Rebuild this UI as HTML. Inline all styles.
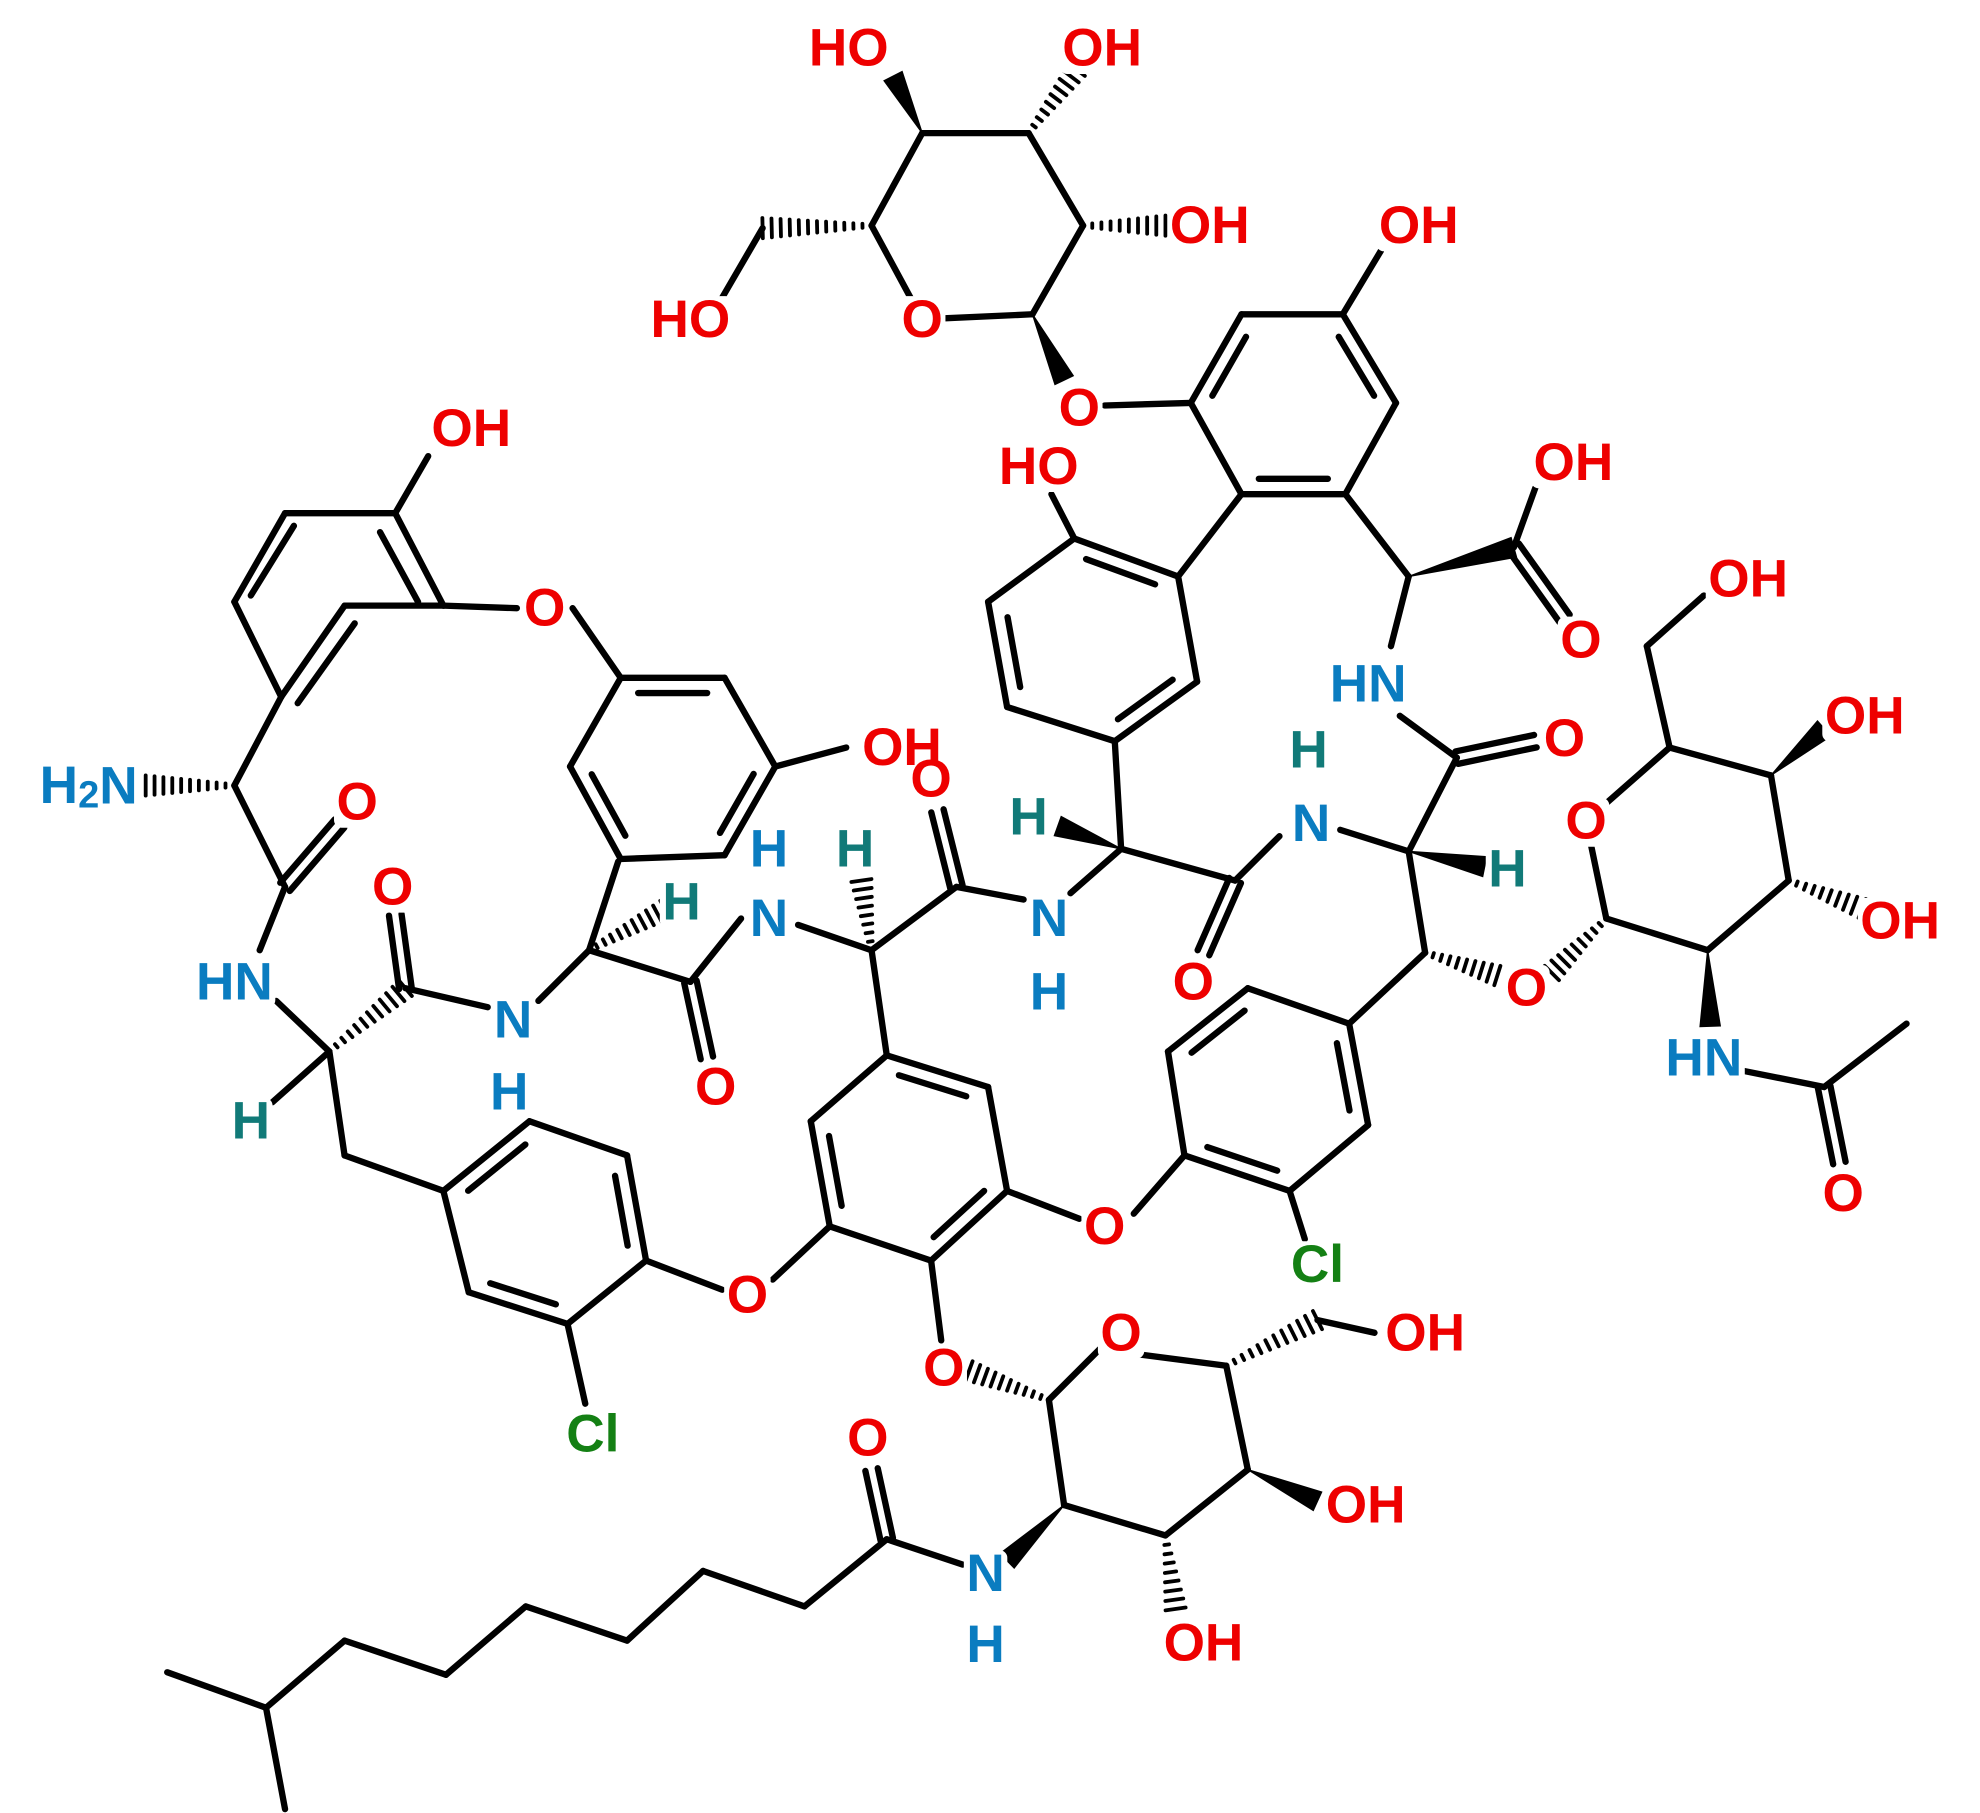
<!DOCTYPE html>
<html><head><meta charset="utf-8"><style>
html,body{margin:0;padding:0;background:#fff}
svg{display:block}
text{font-family:"Liberation Sans",sans-serif;font-weight:bold;font-size:42px;text-anchor:middle;dominant-baseline:central}
.o{fill:#ee0000}.n{fill:#0a7cc0}.h{fill:#117a78}.c{fill:#148014}
</style></head><body>
<svg id="s" width="1980" height="1813" viewBox="0 0 1563 1431" xmlns="http://www.w3.org/2000/svg">
<g id="b" stroke="#000" stroke-width="5" stroke-linecap="round" fill="#000"></g>
<g id="bg" fill="#fff"></g>
<g id="t">
<text class="o" x="670" y="38">HO</text>
<text class="o" x="870" y="38">OH</text>
<text class="o" x="955" y="178">OH</text>
<text class="o" x="545" y="252">HO</text>
<text class="o" x="728" y="252">O</text>
<text class="o" x="852" y="322">O</text>
<text class="o" x="1120" y="178">OH</text>
<text class="o" x="372" y="338">OH</text>
<text class="o" x="820" y="368">HO</text>
<text class="o" x="1242" y="365">OH</text>
<text class="o" x="1248" y="505">O</text>
<text class="o" x="1380" y="457">OH</text>
<text class="n" x="1080" y="540">HN</text>
<text class="o" x="1235" y="583">O</text>
<text class="o" x="430" y="480">O</text>
<text class="o" x="712" y="590">OH</text>
<text class="o" x="735" y="615">O</text>
<text class="h" x="1033" y="592">H</text>
<text class="n" x="1035" y="650">N</text>
<text class="o" x="1472" y="565">OH</text>
<text class="o" x="1252" y="648">O</text>
<text class="n" x="70" y="620">H<tspan font-size="30" dy="8">2</tspan><tspan dy="-8">N</tspan></text>
<text class="o" x="282" y="633">O</text>
<text class="o" x="310" y="700">O</text>
<text class="n" x="607" y="670">H</text>
<text class="h" x="675" y="670">H</text>
<text class="h" x="812" y="645">H</text>
<text class="h" x="1190" y="686">H</text>
<text class="h" x="538" y="712">H</text>
<text class="n" x="607" y="725">N</text>
<text class="n" x="828" y="725">N</text>
<text class="o" x="1500" y="727">OH</text>
<text class="n" x="185" y="775">HN</text>
<text class="o" x="942" y="775">O</text>
<text class="o" x="1205" y="780">O</text>
<text class="n" x="828" y="783">H</text>
<text class="n" x="405" y="805">N</text>
<text class="n" x="1345" y="835">HN</text>
<text class="o" x="565" y="858">O</text>
<text class="n" x="402" y="862">H</text>
<text class="h" x="198" y="885">H</text>
<text class="o" x="1455" y="942">O</text>
<text class="o" x="872" y="968">O</text>
<text class="c" x="1040" y="998">Cl</text>
<text class="o" x="590" y="1022">O</text>
<text class="o" x="1125" y="1052">OH</text>
<text class="o" x="885" y="1052">O</text>
<text class="o" x="745" y="1080">O</text>
<text class="c" x="468" y="1132">Cl</text>
<text class="o" x="685" y="1135">O</text>
<text class="o" x="1078" y="1188">OH</text>
<text class="n" x="778" y="1242">N</text>
<text class="n" x="778" y="1298">H</text>
<text class="o" x="950" y="1297">OH</text>
</g>
</svg>
<script>
var g=document.getElementById('b'),NS='http://www.w3.org/2000/svg';
function L(a,b,c,d){var e=document.createElementNS(NS,'line');e.setAttribute('x1',a);e.setAttribute('y1',b);e.setAttribute('x2',c);e.setAttribute('y2',d);g.appendChild(e);}
function S(p){for(var i=0;i<p.length-1;i++)L(p[i][0],p[i][1],p[i+1][0],p[i+1][1]);}
function R(p,d){for(var i=0;i<p.length;i++){var a=p[i],b=p[(i+1)%p.length];L(a[0],a[1],b[0],b[1]);}
 var cx=0,cy=0;p.forEach(function(q){cx+=q[0];cy+=q[1]});cx/=p.length;cy/=p.length;
 d.forEach(function(i){var a=p[i],b=p[(i+1)%p.length];var f=0.17;
  var ax=a[0]+(cx-a[0])*f,ay=a[1]+(cy-a[1])*f,bx=b[0]+(cx-b[0])*f,by=b[1]+(cy-b[1])*f;
  var t=0.1;L(ax+(bx-ax)*t,ay+(by-ay)*t,bx-(bx-ax)*t,by-(by-ay)*t);});}
function D(a,b,c,d){var dx=c-a,dy=d-b,l=Math.hypot(dx,dy),nx=-dy/l*5,ny=dx/l*5;L(a+nx,b+ny,c+nx,d+ny);L(a-nx,b-ny,c-nx,d-ny);}
function W(a,b,c,d){var dx=c-a,dy=d-b,l=Math.hypot(dx,dy),nx=-dy/l*8,ny=dx/l*8;var e=document.createElementNS(NS,'polygon');e.setAttribute('points',a+','+b+' '+(c+nx)+','+(d+ny)+' '+(c-nx)+','+(d-ny));e.setAttribute('stroke-width','1');g.appendChild(e);}
function H(a,b,c,d){var dx=c-a,dy=d-b,l=Math.hypot(dx,dy),n=Math.max(5,Math.round(l/7));for(var i=1;i<=n;i++){var t=i/n,w=1+7*t,x=a+dx*t,y=b+dy*t,nx=-dy/l*w,ny=dx/l*w;var e=document.createElementNS(NS,'line');e.setAttribute('x1',x+nx);e.setAttribute('y1',y+ny);e.setAttribute('x2',x-nx);e.setAttribute('y2',y-ny);e.setAttribute('stroke-width','3');g.appendChild(e);}}
R([[815,248],[728,252],[688,178],[728,105],[812,105],[855,178]],[]);
W(815,248,840,300);W(728,105,705,60);H(812,105,850,55);H(855,178,920,178);
H(688,178,602,180);L(602,180,570,235);
L(872,320,940,318);
R([[940,318],[980,248],[1060,248],[1102,318],[1062,390],[980,390]],[0,2,4]);
L(1060,248,1090,198);
L(1062,390,1112,455);W(1112,455,1195,432);L(1195,432,1212,385);D(1195,432,1235,488);
L(1112,455,1098,510);L(1105,565,1150,598);D(1150,598,1212,585);L(1150,598,1112,672);W(1112,672,1172,684);
L(1112,672,1058,655);L(1010,660,975,695);D(975,695,950,752);L(975,695,885,670);W(885,670,835,652);
R([[880,585],[795,558],[780,475],[848,425],[930,455],[945,538]],[1,3,5]);
L(885,670,880,585);L(848,425,830,390);L(930,455,980,390);
L(885,670,845,705);L(808,710,755,700);D(755,700,740,640);L(755,700,688,750);H(688,750,680,695);
L(688,750,630,730);L(585,725,545,775);D(545,775,558,835);L(545,775,465,750);H(465,750,525,718);
L(465,750,488,680);L(465,750,425,790);L(385,795,320,780);D(320,780,312,722);
H(260,830,320,780);L(260,830,215,870);L(260,830,218,790);L(260,830,272,912);L(272,912,350,940);
L(205,750,225,700);D(225,700,268,650);L(225,700,185,620);H(185,620,115,620);L(185,620,222,550);
L(185,475,225,405);L(198,470,232,415);
L(225,405,312,405);L(312,405,350,478);L(300,420,330,475);L(350,478,272,478);L(272,478,222,550);
L(280,492,235,555);L(222,550,185,475);
L(312,405,338,360);L(350,478,408,480);L(452,480,490,535);
R([[490,535],[572,535],[612,605],[572,675],[490,678],[450,605]],[0,2,4]);
L(612,605,668,590);
R([[350,940],[418,885],[495,912],[510,995],[448,1045],[370,1020]],[0,2,4]);
L(448,1045,462,1108);L(510,995,570,1018);L(610,1010,655,968);
R([[700,833],[780,858],[795,940],[735,995],[655,968],[640,885]],[0,2,4]);
L(688,750,700,833);L(795,940,852,962);L(895,958,935,912);L(735,995,743,1058);
R([[935,912],[922,830],[985,780],[1065,808],[1080,888],[1018,940]],[1,3,5]);
L(1018,940,1030,978);L(1065,808,1125,752);L(1125,752,1112,672);H(1125,752,1182,770);
H(1268,725,1225,768);
R([[1268,725],[1252,648],[1318,590],[1398,612],[1412,695],[1348,750]],[]);
L(1318,590,1300,510);L(1300,510,1345,470);W(1398,612,1440,575);H(1412,695,1470,717);
W(1348,750,1350,810);L(1375,845,1440,858);L(1440,858,1505,808);D(1440,858,1452,918);
H(828,1105,765,1082);
R([[828,1105],[868,1065],[968,1078],[985,1160],[920,1212],[840,1188]],[]);
H(968,1078,1040,1042);L(1040,1042,1085,1052);W(985,1160,1040,1185);H(920,1212,928,1270);
W(840,1188,795,1232);L(760,1235,700,1215);D(700,1215,688,1160);
S([[700,1215],[635,1268],[555,1240],[495,1295],[415,1268],[352,1322],[272,1295],[210,1348],[132,1320]]);
L(210,1348,225,1428);
var bg=document.getElementById('bg');
document.querySelectorAll('#t text').forEach(function(t){var b=t.getBBox();var r=document.createElementNS(NS,'rect');
r.setAttribute('x',b.x-2);r.setAttribute('y',b.y+5);r.setAttribute('width',b.width+4);r.setAttribute('height',b.height-8);r.setAttribute('rx',6);bg.appendChild(r);});
</script>
</body></html>
